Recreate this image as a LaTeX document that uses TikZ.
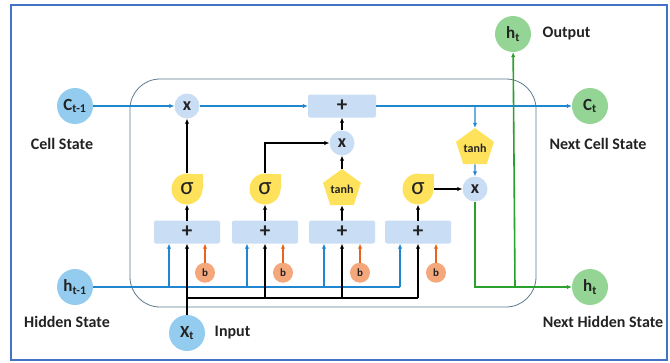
\documentclass[tikz,border=0pt]{standalone}
\usepackage{fontspec}
\setmainfont{Carlito}
\usepackage{xcolor}
\usepackage{tikz}
\usetikzlibrary{arrows.meta,positioning,shapes.geometric}
\definecolor{lstframe}{HTML}{4472C4}
\definecolor{lstcell}{HTML}{5B7B8C}
\definecolor{lstblue}{HTML}{94CCF0}
\definecolor{lstline}{HTML}{1F86CF}
\definecolor{lstgreen}{HTML}{94D494}
\definecolor{lstgline}{HTML}{2CA02C}
\definecolor{lstbox}{HTML}{C9DDF5}
\definecolor{lstyellow}{HTML}{FFE25C}
\definecolor{lstorange}{HTML}{F5A77C}
\definecolor{lstoline}{HTML}{E8631C}
\definecolor{lsttext}{HTML}{222222}

\begin{document}
\begin{tikzpicture}[x=1pt,y=-1pt,font=\bfseries,text=lsttext,
  state/.style={circle,fill=lstblue,minimum size=36pt,inner sep=0pt,font=\bfseries\fontsize{17}{17}\selectfont},
  outstate/.style={state,fill=lstgreen},
  mult/.style={circle,fill=lstbox,minimum size=25pt,inner sep=0pt,font=\bfseries\fontsize{18}{18}\selectfont},
  adder/.style={rectangle,rounded corners=2pt,fill=lstbox,minimum width=66pt,minimum height=23pt,inner sep=0pt,font=\bfseries\fontsize{21}{21}\selectfont},
  sig/.style={circle,fill=lstyellow,minimum size=31pt,inner sep=0pt,font=\fontsize{25}{25}\selectfont},
  tanhgate/.style={regular polygon,regular polygon sides=5,fill=lstyellow,minimum size=38pt,inner sep=0pt,font=\bfseries\fontsize{12}{12}\selectfont},
  bias/.style={circle,fill=lstorange,minimum size=20pt,inner sep=0pt,font=\bfseries\fontsize{11}{11}\selectfont},
  caption/.style={font=\bfseries\fontsize{16}{18}\selectfont},
  blk/.style={-{Latex[length=5pt,width=4.5pt]},line width=1.6pt,black},
  blu/.style={-{Latex[length=5pt,width=4.5pt]},line width=1.4pt,lstline},
  grn/.style={-{Latex[length=5pt,width=4.5pt]},line width=1.6pt,lstgline},
  orn/.style={-{Latex[length=5pt,width=4.5pt]},line width=1.4pt,lstoline}]
  \useasboundingbox (0,0) rectangle (670,362);
  \draw[lstframe,line width=2pt] (11,5) rectangle (667,360);
  \draw[lstcell,line width=0.8pt,rounded corners=30pt] (130,79) rectangle (536,307);

  \node[state] (cprev) at (75,106) {C\textsubscript{t-1}};
  \node[state] (hprev) at (75,287) {h\textsubscript{t-1}};
  \node[state] (xt) at (187,333) {X\textsubscript{t}};
  \node[outstate] (hout) at (513,34) {h\textsubscript{t}};
  \node[outstate] (cnext) at (590,106) {C\textsubscript{t}};
  \node[outstate] (hnext) at (590,287) {h\textsubscript{t}};

  \node[caption] at (62,144) {Cell State};
  \node[caption] at (67,322) {Hidden State};
  \node[caption,right=6pt of xt] {Input};
  \node[caption,right=8pt of hout] {Output};
  \node[caption] at (598,144) {Next Cell State};
  \node[caption] at (603,322) {Next Hidden State};

  \foreach \i/\x in {1/187,2/265,3/342,4/418} {
    \node[adder] (add\i) at (\x,232) {+};
    \coordinate (in\i) at ([xshift=-18pt]add\i.south);
    \node[bias] (b\i) at ([xshift=18pt,yshift=-29pt]add\i.south) {b};
    \draw[orn] (b\i) -- (b\i |- add\i.south);
  }
  \foreach \i in {1,2,4} {
    \fill[lstyellow] (add\i |- 0,189) rectangle ++(15.5,-15.5);
    \node[sig] (g\i) at (add\i |- 0,189) {σ};
  }
  \node[tanhgate] (g3) at (342,189) {tanh};
  \foreach \i in {1,...,4}
    \draw[blk] (add\i) ++(0,-11.5) -- (g\i);

  \node[mult] (m1) at (187,106) {x};
  \node[adder,minimum width=68pt] (cadd) at (342,106) {+};
  \node[mult] (m2) at (342,143) {x};
  \node[tanhgate] (g5) at (475,148) {tanh};
  \node[mult] (m3) at (475,189) {x};
  \coordinate (cbr) at (475,106);
  \coordinate (hbr) at (515,287);

  \draw[blu] (cprev) -- (m1);
  \draw[blu] (m1) -- (cadd);
  \draw[blu] (cadd) -- (cnext);
  \draw[blu] (cbr) -- (g5);
  \draw[blu] (g5) -- (m3);
  \draw[blk] (g1) -- (m1);
  \draw[blk] (g2) |- (m2);
  \draw[blk] (g3) -- (m2);
  \draw[blk] (m2) -- (cadd);
  \draw[blk] (g4) -- (m3);
  \draw[grn] (m3) |- (hnext);
  \draw[grn] (hbr) -- (hout);

  \draw[lstline,line width=1.4pt] (hprev) -- (hprev -| in4);
  \foreach \i in {1,...,4}
    \draw[blu] (hprev -| in\i) -- (in\i);
  \coordinate (xbus) at (187,298);
  \draw[line width=1.6pt] (xbus) -- (xbus -| add4);
  \draw[blk] (xt) -- (add1);
  \foreach \i in {2,3,4}
    \draw[blk] (xbus -| add\i) -- (add\i.south);
\end{tikzpicture}
\end{document}
